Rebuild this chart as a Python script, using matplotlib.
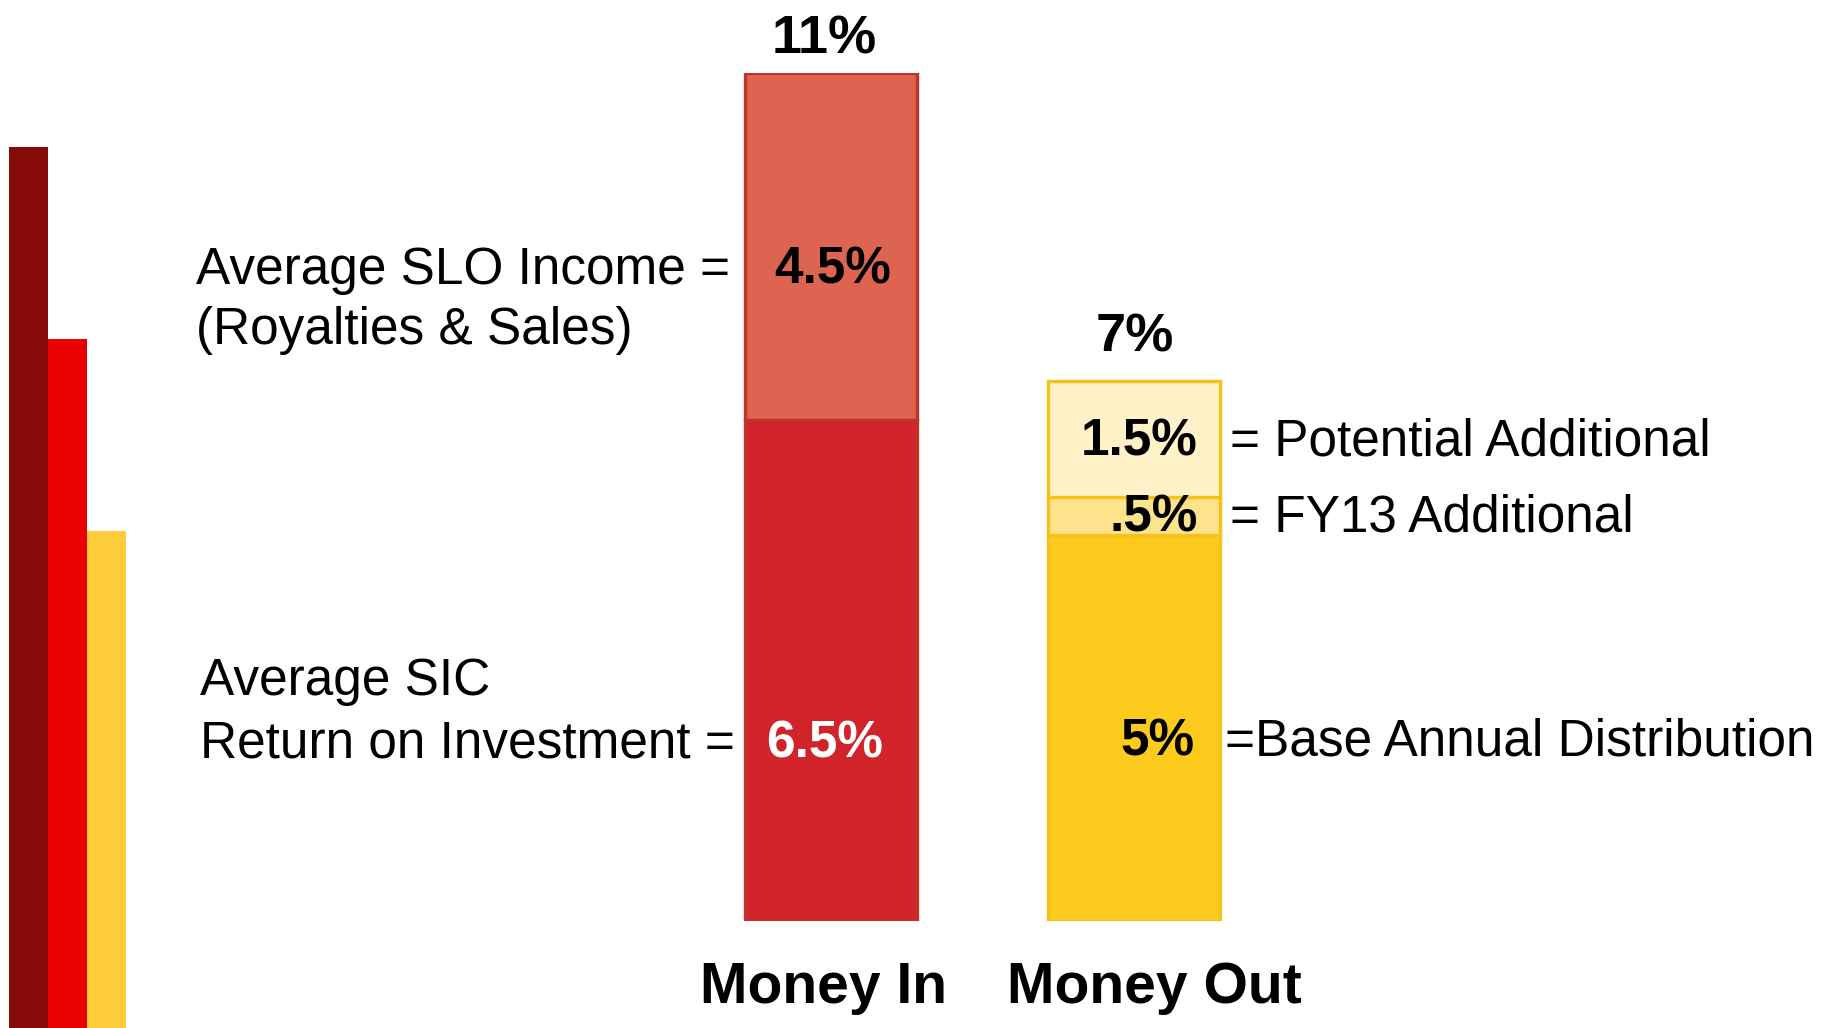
import matplotlib

matplotlib.use("Agg")
import matplotlib.pyplot as plt
import numpy as np

plt.rcParams["font.family"] = ["Liberation Sans", "DejaVu Sans"]

# --- data -------------------------------------------------------------
categories = ["Money In", "Money Out"]
totals = [11, 7]
total_labels = ["11%", "7%"]

money_in_values = [6.5, 4.5]  # bottom -> top
money_in_labels = ["6.5%", "4.5%"]
money_in_colors = ["#D0232A", "#DC6450"]

money_out_values = [5.0, 0.5, 1.5]  # bottom -> top
money_out_labels = ["5%", ".5%", "1.5%"]
money_out_colors = ["#FDCA1E", "#FDE48C", "#FFF2C8"]
money_out_notes = ["=Base Annual Distribution", "= FY13 Additional", "= Potential Additional"]

left_notes = [
    ["Average SIC", "Return on Investment ="],
    ["Average SLO Income =", "(Royalties & Sales)"],
]

# decorative stripes at the left edge (fraction of page height)
deco_heights = [0.857, 0.670, 0.483]
deco_colors = ["#860A0A", "#E90000", "#FDCD3A"]

# --- figure -----------------------------------------------------------
W, H = 1833, 1028
fig = plt.figure(figsize=(W / 100, H / 100), dpi=100)
fig.patch.set_facecolor("white")


def px(x, y):
    """pixel position (from top-left) -> figure fraction"""
    return x / W, 1 - y / H


# decorative stripes
ax_d = fig.add_axes([9.4 / W, 0, (126.3 - 9.4) / W, 1])
ax_d.bar(np.arange(len(deco_heights)), deco_heights, width=1.0, color=deco_colors, linewidth=0)
ax_d.set_xlim(-0.5, len(deco_heights) - 0.5)
ax_d.set_ylim(0, 1)
ax_d.axis("off")

# main stacked bars
ax = fig.add_axes([0, 107 / H, 1, 848.5 / H])
ax.set_ylim(0, 11)
ax.set_xlim(-2.738, 3.304)
ax.axis("off")
bar_w = 0.567

bottom = 0
for v, c in zip(money_in_values, money_in_colors):
    ax.bar(0, v, bottom=bottom, width=bar_w, color=c, edgecolor="#BF3329", linewidth=2.4)
    bottom += v

bottom = 0
for v, c in zip(money_out_values, money_out_colors):
    ax.bar(1, v, bottom=bottom, width=bar_w, color=c, edgecolor="#F6C21A", linewidth=2.4)
    bottom += v

FS = 37
bold = dict(fontsize=FS, fontweight="bold", va="baseline")
reg = dict(fontsize=FS, va="baseline", color="black")

# totals above bars
fig.text(*px(824, 53), total_labels[0], ha="center", fontsize=39, fontweight="bold", va="baseline")
fig.text(*px(1135, 351), total_labels[1], ha="center", fontsize=39, fontweight="bold", va="baseline")

# money in segment labels
fig.text(*px(825, 757), money_in_labels[0], ha="center", color="white", **bold)
fig.text(*px(833, 283), money_in_labels[1], ha="center", color="black", **bold)

# money out segment labels + notes
out_baselines = [755, 532, 455]
out_right = [1195, 1198, 1198]
out_note_x = [1225, 1230, 1230]
for lab, note, yb, xr, xn in zip(money_out_labels, money_out_notes, out_baselines, out_right, out_note_x):
    fig.text(*px(xr, yb), lab, ha="right", color="black", **bold)
    fig.text(*px(xn, yb), note, ha="left", **reg)

# left-hand notes
fig.text(*px(200, 695), left_notes[0][0], ha="left", **reg)
fig.text(*px(200, 757), left_notes[0][1], ha="left", **reg)
fig.text(*px(196, 284), left_notes[1][0], ha="left", **reg)
fig.text(*px(196, 344), left_notes[1][1], ha="left", **reg)

# category labels
fig.text(*px(824, 1003), categories[0], ha="center", fontsize=41, fontweight="bold", va="baseline")
fig.text(*px(1154, 1003), categories[1], ha="center", fontsize=41, fontweight="bold", va="baseline")

fig.savefig("out.png", dpi=100, facecolor="white")
